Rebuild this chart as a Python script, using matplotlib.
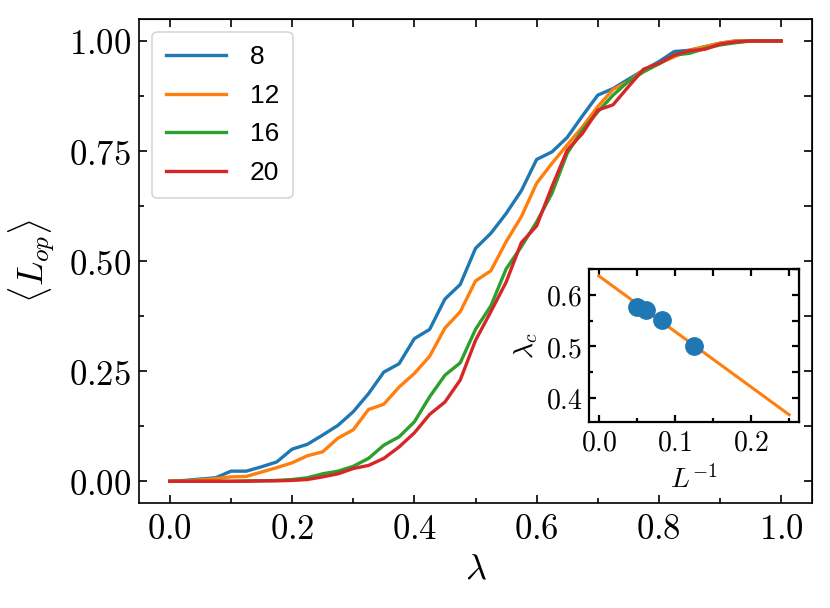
import numpy as np
import matplotlib
matplotlib.use("Agg")
import matplotlib.pyplot as plt
from matplotlib.ticker import MultipleLocator, FuncFormatter

plt.rcParams['mathtext.fontset'] = 'cm'

# order parameter vs lambda, one curve per system size
lam = np.linspace(0, 1, 41)
sizes = [8, 12, 16, 20]

L8 = [0.000, 0.002, 0.005, 0.008, 0.023, 0.023, 0.033, 0.044, 0.073, 0.084,
      0.105, 0.127, 0.158, 0.199, 0.248, 0.267, 0.324, 0.345, 0.414, 0.447,
      0.529, 0.563, 0.608, 0.660, 0.731, 0.748, 0.781, 0.830, 0.877, 0.892,
      0.913, 0.934, 0.953, 0.976, 0.979, 0.987, 0.995, 1.000, 1.000, 1.000, 1.000]
L12 = [0.000, 0.001, 0.003, 0.006, 0.010, 0.011, 0.021, 0.031, 0.042, 0.058,
       0.067, 0.098, 0.117, 0.163, 0.175, 0.214, 0.245, 0.284, 0.348, 0.385,
       0.455, 0.478, 0.544, 0.601, 0.677, 0.722, 0.764, 0.805, 0.851, 0.890,
       0.908, 0.934, 0.949, 0.964, 0.979, 0.987, 0.995, 1.000, 1.000, 1.000, 1.000]
L16 = [0.000, 0.000, 0.000, 0.000, 0.000, 0.001, 0.001, 0.002, 0.004, 0.008,
       0.017, 0.023, 0.034, 0.052, 0.082, 0.101, 0.135, 0.192, 0.241, 0.269,
       0.345, 0.398, 0.482, 0.533, 0.589, 0.654, 0.745, 0.798, 0.839, 0.877,
       0.908, 0.930, 0.948, 0.968, 0.972, 0.983, 0.991, 0.996, 1.000, 1.000, 1.000]
L20 = [0.000, 0.000, 0.000, 0.000, 0.000, 0.000, 0.001, 0.001, 0.002, 0.004,
       0.010, 0.017, 0.029, 0.036, 0.052, 0.078, 0.110, 0.152, 0.180, 0.230,
       0.320, 0.385, 0.452, 0.542, 0.580, 0.669, 0.752, 0.790, 0.843, 0.855,
       0.896, 0.936, 0.949, 0.968, 0.978, 0.981, 0.993, 0.998, 1.000, 1.000, 1.000]
curves = [L8, L12, L16, L20]

# critical points vs 1/L and linear fit
inv_L = [1 / 20, 1 / 16, 1 / 12, 1 / 8]
lam_c = [0.5775, 0.571, 0.5506, 0.5006]
fit_x = [0.0, 0.25]
fit_y = [0.637, 0.367]

colors = ['#1f77b4', '#ff7f0e', '#2ca02c', '#d62728']


def mathfmt(fmt):
    return FuncFormatter(lambda v, p: r'$' + fmt % v + '$')


def style_axes(ax, xmaj, xmin, ymaj, ymin, maj_len, min_len, lw):
    ax.xaxis.set_major_locator(MultipleLocator(xmaj))
    ax.xaxis.set_minor_locator(MultipleLocator(xmin))
    ax.yaxis.set_major_locator(MultipleLocator(ymaj))
    ax.yaxis.set_minor_locator(MultipleLocator(ymin))
    ax.tick_params(which='both', direction='in', width=lw)
    ax.tick_params(which='major', length=maj_len)
    ax.tick_params(which='minor', length=min_len)
    for s in ax.spines.values():
        s.set_linewidth(lw)
    # top/right: every tick the same length
    top = ax.secondary_xaxis('top')
    top.xaxis.set_major_locator(MultipleLocator(xmin))
    top.tick_params(direction='in', length=maj_len, width=lw, labeltop=False)
    right = ax.secondary_yaxis('right')
    right.yaxis.set_major_locator(MultipleLocator(ymin))
    right.tick_params(direction='in', length=maj_len, width=lw, labelright=False)


fig = plt.figure(figsize=(8.3, 6.08), dpi=100)
ax = fig.add_axes([0.1678, 0.1722, 0.8102, 0.7966])

for L, y, c in zip(sizes, curves, colors):
    ax.plot(lam, y, color=c, lw=2.4, label=str(L))

style_axes(ax, 0.2, 0.1, 0.25, 0.125, 6, 3.5, 1.2)
ax.xaxis.set_major_formatter(mathfmt('%.1f'))
ax.yaxis.set_major_formatter(mathfmt('%.2f'))
ax.tick_params(which='major', labelsize=25, pad=6)
ax.set_xlabel(r'$\lambda$', fontsize=26, labelpad=4)
ax.set_ylabel(r'$\langle L_{op} \rangle$', fontsize=26, labelpad=8)

leg = ax.legend(loc='upper left', prop={'family': 'Liberation Sans', 'size': 19},
                handlelength=2.3, borderaxespad=0.5, labelspacing=0.55,
                handletextpad=0.9, borderpad=0.5)
leg.get_frame().set_linewidth(1.2)

ins = fig.add_axes([0.710, 0.3064, 0.2523, 0.2512])
ins.plot(fit_x, fit_y, color='#ff7f0e', lw=2.2)
ins.plot(inv_L, lam_c, 'o', color='#1f77b4', ms=12.5)
style_axes(ins, 0.1, 0.05, 0.1, 0.05, 5, 3, 1.6)
ins.xaxis.set_major_formatter(mathfmt('%.1f'))
ins.yaxis.set_major_formatter(mathfmt('%.1f'))
ins.tick_params(which='major', labelsize=20, pad=5)
ins.set_xlabel(r'$L^{-1}$', fontsize=20, labelpad=6)
ins.set_ylabel(r'$\lambda_c$', fontsize=20, labelpad=4)

fig.savefig('out.png', dpi=100)
